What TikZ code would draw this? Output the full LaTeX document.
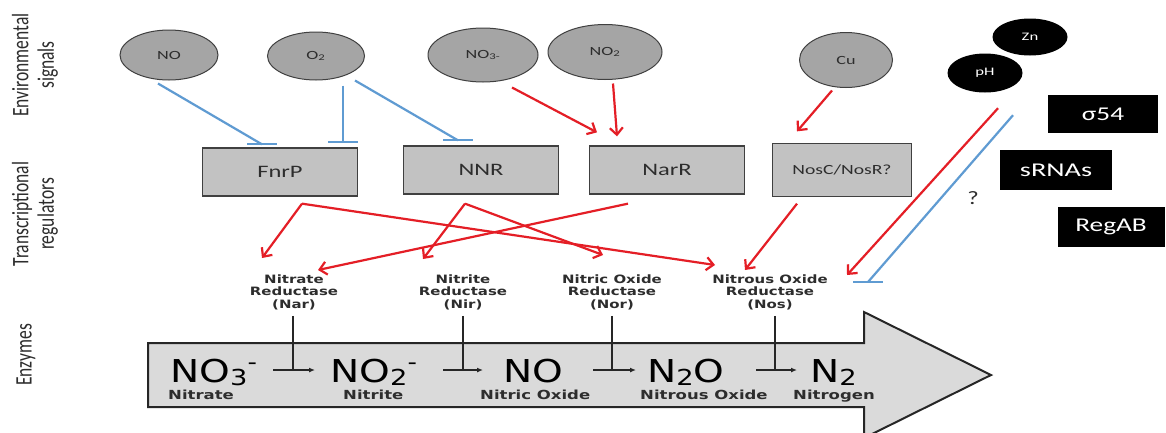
\documentclass[tikz,border=0pt]{standalone}
\usepackage{fontspec}
\usepackage{graphicx}
\setmainfont{Carlito}
\newfontfamily\vfont{DejaVu Sans}
\usetikzlibrary{shapes.geometric,arrows.meta,calc}
\definecolor{myred}{RGB}{228,30,38}
\definecolor{myblue}{RGB}{95,155,210}
\definecolor{ellgray}{RGB}{165,165,165}
\definecolor{boxgray}{RGB}{194,194,194}
\definecolor{arrgray}{RGB}{218,218,218}
\definecolor{txt}{RGB}{45,45,45}
\newcommand\sx[2]{\scalebox{#1}[1]{#2}}
\newcommand\fsub[1]{\raisebox{-3pt}{\fontsize{22}{22}\selectfont #1}}
\newcommand\fsup[1]{\raisebox{13pt}{\fontsize{21}{21}\selectfont #1}}
\begin{document}
\begin{tikzpicture}[x=1pt,y=-1pt,
 sig/.style={ellipse,draw=black!75,line width=1pt,fill=ellgray,inner sep=0pt,font=\fontsize{12.5}{14}\selectfont,text=txt},
 bsig/.style={ellipse,fill=black,inner sep=0pt,text=white,font=\fontsize{11.5}{13}\selectfont},
 reg/.style={rectangle,draw=black!75,line width=1.3pt,fill=boxgray,minimum width=155pt,minimum height=48pt,inner sep=0pt,text=txt,font=\fontsize{17.5}{20}\selectfont},
 bbox/.style={rectangle,fill=black,inner sep=0pt,text=white,font=\fontsize{19.5}{22}\selectfont},
 enz/.style={inner sep=0pt,text=txt,font=\vfont\bfseries\fontsize{11.5}{12.5}\selectfont},
 side/.style={rotate=90,inner sep=0pt,text=txt,font=\fontsize{17.5}{19}\selectfont},
 inh/.style={draw=myblue,line width=2.2pt},
 act/.style={draw=myred,line width=2.2pt,-{Straight Barb[length=7pt,width=13pt]}},
 stem/.style={draw=black!85,line width=1.6pt},
 rx/.style={draw=black!85,line width=1.2pt,-{Latex[length=6pt,width=5pt]}},
 form/.style={inner sep=0pt,anchor=base west,text=black,font=\vfont\fontsize{31.5}{32}\selectfont},
 fname/.style={inner sep=0pt,anchor=base west,text=txt,font=\vfont\bfseries\fontsize{12.5}{14}\selectfont},
]
\useasboundingbox[fill=white] (0,0) rectangle (1166,432);

% side labels
\node[side] (lab1) at (36,65) {\scalebox{1}[1.35]{\begin{tabular}{@{}c@{}}Environmental\\signals\end{tabular}}};
\node[side] (lab2) at (36,214) {\scalebox{1}[1.35]{\begin{tabular}{@{}c@{}}Transcriptional\\regulators\end{tabular}}};
\node[side] (lab3) at (26,355) {\scalebox{1}[1.35]{Enzymes}};

% environmental signals
\node[sig,minimum width=98pt,minimum height=50pt] (no) at (169,55) {\sx{1.45}{NO}};
\node[sig,minimum width=97pt,minimum height=48pt] (o2) at (316,56) {\sx{1.45}{O\textsubscript{2}}};
\node[sig,minimum width=110pt,minimum height=54pt] (no3s) at (483,55) {\sx{1.45}{NO\textsubscript{3-}}};
\node[sig,minimum width=114pt,minimum height=55pt] (no2s) at (605,52) {\sx{1.45}{NO\textsubscript{2}}};
\node[sig,minimum width=93pt,minimum height=55pt] (cu) at (846,60) {\sx{1.45}{Cu}};
\node[bsig,minimum width=75pt,minimum height=37pt] (zn) at (1030,37) {\sx{1.45}{Zn}};
\node[bsig,minimum width=75pt,minimum height=39pt] (ph) at (985,73) {\sx{1.45}{pH}};

% regulators
\node[reg] (fnrp) at (280,172) {\sx{1.4}{FnrP}};
\node[reg] (nnr) at (481,170) {\sx{1.4}{NNR}};
\node[reg] (narr) at (667,170) {\sx{1.4}{NarR}};
\node[reg,minimum width=139pt,minimum height=53pt,font=\fontsize{14}{16}\selectfont] (nosc) at (842,170) {\sx{1.4}{NosC/NosR?}};

\node[bbox,minimum width=110pt,minimum height=38pt] (s54) at (1103,114) {\sx{1.4}{σ54}};
\node[bbox,minimum width=112pt,minimum height=40pt] (srna) at (1056,170) {\sx{1.45}{sRNAs}};
\node[bbox,minimum width=107pt,minimum height=40pt] (regab) at (1111,227) {\sx{1.4}{RegAB}};
\node[text=txt,font=\fontsize{19}{20}\selectfont,inner sep=0pt] (q) at (973,198) {\sx{1.3}{?}};

% enzymes
\node[enz] (nar) at (294,293) {\sx{1.3}{\begin{tabular}{@{}c@{}}Nitrate\\Reductase\\(Nar)\end{tabular}}};
\node[enz] (nir) at (463,293) {\sx{1.3}{\begin{tabular}{@{}c@{}}Nitrite\\Reductase\\(Nir)\end{tabular}}};
\node[enz] (nor) at (612,293) {\sx{1.3}{\begin{tabular}{@{}c@{}}Nitric Oxide\\Reductase\\(Nor)\end{tabular}}};
\node[enz] (nos) at (770,293) {\sx{1.3}{\begin{tabular}{@{}c@{}}Nitrous Oxide\\Reductase\\(Nos)\end{tabular}}};

% inhibitions
\coordinate (b1) at ($(fnrp.north)+(-18,-3)$);
\coordinate (b2) at ($(fnrp.north)+(63,-5)$);
\coordinate (b3) at ($(nnr.north)+(-23,-5)$);
\coordinate (b4) at ($(nos)+(98,-11)$);
\draw[inh] ($(no.south)+(-11,3)$) -- (b1);
\draw[inh] ($(o2.south)+(27,5)$) -- (b2);
\draw[inh] ($(o2.south)+(39,0)$) -- (b3);
\draw[inh] ($(ph.south)+(28,22.5)$) -- (b4);
\foreach \b in {b1,b2,b3,b4}{\draw[inh] ([xshift=-15pt]\b) -- ([xshift=15pt]\b);}

% activations
\draw[act] ($(no3s.south)+(29,5)$) -- ($(narr.north)+(-70,-13)$);
\draw[act] ($(no2s.south)+(8,3.5)$) -- ($(narr.north)+(-50,-9)$);
\draw[act] ($(cu.south)+(-14,2.5)$) -- ($(nosc.north)+(-45,-11.5)$);
\draw[act] ($(fnrp.south)+(22,7)$) -- ($(nar)+(-32,-35)$);
\draw[act] ($(fnrp.south)+(22,7)$) -- ($(nos)+(-55,-28)$);
\draw[act] ($(nnr.south)+(-16,9)$) -- ($(nir)+(-40,-34)$);
\draw[act] ($(nnr.south)+(-16,9)$) -- ($(nor)+(-9,-38)$);
\draw[act] ($(narr.south)+(-39,9)$) -- ($(nar)+(24,-23)$);
\draw[act] ($(nosc.south)+(-45,6.5)$) -- ($(nos)+(-25,-23)$);
\draw[act] ($(ph.south)+(13,15.5)$) -- ($(nos)+(77,-18)$);

% pathway arrow
\draw[line width=2pt,draw=black!85,fill=arrgray] (148,343) -- (864,343) -- (864,312) -- (991,375) -- (864,438) -- (864,407) -- (148,407) -- cycle;

\node[form] (f1) at (170,382) {\sx{1.24}{NO\fsub{3}\fsup{-}}};
\node[form] (f2) at (330,382) {\sx{1.24}{NO\fsub{2}\fsup{-}}};
\node[form] (f3) at (503,382) {\sx{1.24}{NO}};
\node[form] (f4) at (647,382) {\sx{1.24}{N\fsub{2}O}};
\node[form] (f5) at (810,382) {\sx{1.24}{N\fsub{2}}};

\node[fname] (n1) at (168,399) {\sx{1.32}{Nitrate}};
\node[fname] (n2) at (343,399) {\sx{1.32}{Nitrite}};
\node[fname] (n3) at (480,399) {\sx{1.32}{Nitric Oxide}};
\node[fname] (n4) at (640,399) {\sx{1.32}{Nitrous Oxide}};
\node[fname] (n5) at (793,399) {\sx{1.32}{Nitrogen}};

\coordinate (j1) at (293,370);
\coordinate (j2) at (463,370);
\coordinate (j3) at (612,370);
\coordinate (j4) at (775,370);
\draw[stem] (j1 |- nar.south) ++(0,4) -- (j1);
\draw[stem] (j2 |- nir.south) ++(0,4) -- (j2);
\draw[stem] (j3 |- nor.south) ++(0,4) -- (j3);
\draw[stem] (j4 |- nos.south) ++(0,4) -- (j4);
\draw[rx] ([xshift=-20pt]j1) -- ([xshift=22pt]j1);
\draw[rx] ([xshift=-20pt]j2) -- ([xshift=20pt]j2);
\draw[rx] ([xshift=-19pt]j3) -- ([xshift=24pt]j3);
\draw[rx] ([xshift=-19pt]j4) -- ([xshift=22pt]j4);
\end{tikzpicture}
\end{document}
